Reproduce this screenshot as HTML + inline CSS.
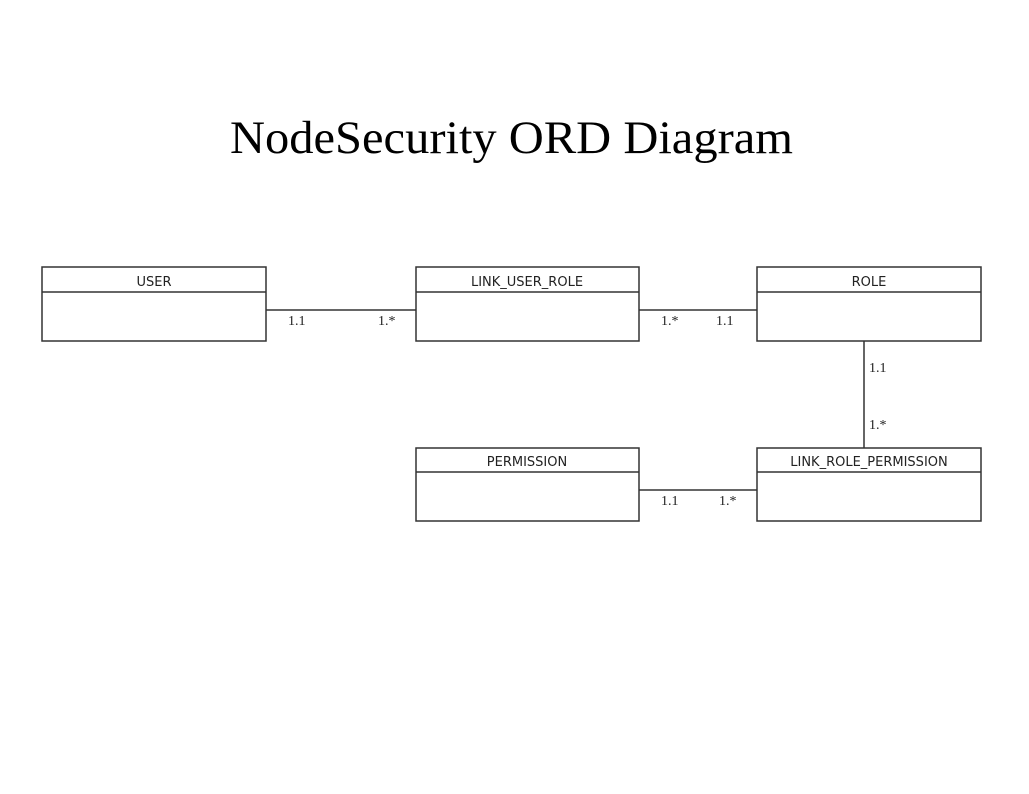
<!DOCTYPE html>
<html><head><style>
body{margin:0;background:#fff;}
</style></head><body>
<svg width="1029" height="789" xmlns="http://www.w3.org/2000/svg">
<rect width="1029" height="789" fill="#fff"/>
<text x="230" y="153" textLength="563" lengthAdjust="spacingAndGlyphs" font-family="Liberation Serif, serif" font-size="47" fill="#000">NodeSecurity ORD Diagram</text>
<g stroke="#333" stroke-width="1.5" fill="none">
<rect x="42" y="267" width="224" height="74"/><line x1="42" y1="292" x2="266" y2="292"/>
<rect x="416" y="267" width="223" height="74"/><line x1="416" y1="292" x2="639" y2="292"/>
<rect x="757" y="267" width="224" height="74"/><line x1="757" y1="292" x2="981" y2="292"/>
<rect x="416" y="448" width="223" height="73"/><line x1="416" y1="472" x2="639" y2="472"/>
<rect x="757" y="448" width="224" height="73"/><line x1="757" y1="472" x2="981" y2="472"/>
<line x1="266" y1="310" x2="416" y2="310"/>
<line x1="639" y1="310" x2="757" y2="310"/>
<line x1="864" y1="341" x2="864" y2="448"/>
<line x1="639" y1="490" x2="757" y2="490"/>
</g>
<g font-family="DejaVu Sans, sans-serif" font-size="13" fill="#222" text-anchor="middle">
<text x="154" y="286">USER</text>
<text x="527" y="286">LINK_USER_ROLE</text>
<text x="869" y="286">ROLE</text>
<text x="527" y="466">PERMISSION</text>
<text x="869" y="466">LINK_ROLE_PERMISSION</text>
</g>
<g font-family="Liberation Serif, serif" font-size="14" fill="#222">
<text x="288" y="325">1.1</text>
<text x="378" y="325">1.*</text>
<text x="661" y="325">1.*</text>
<text x="716" y="325">1.1</text>
<text x="869" y="372">1.1</text>
<text x="869" y="429">1.*</text>
<text x="661" y="505">1.1</text>
<text x="719" y="505">1.*</text>
</g>
</svg>
</body></html>
